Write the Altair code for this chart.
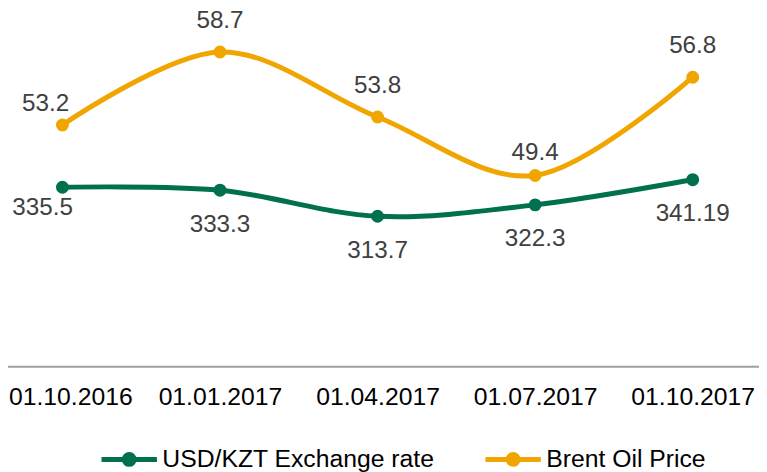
import altair as alt
import pandas as pd

dates = ["01.10.2016", "01.01.2017", "01.04.2017", "01.07.2017", "01.10.2017"]
usd_kzt = [335.5, 333.3, 313.7, 322.3, 341.19]
brent = [53.2, 58.7, 53.8, 49.4, 56.8]
usd_labels = ["335.5", "333.3", "313.7", "322.3", "341.19"]
brent_labels = ["53.2", "58.7", "53.8", "49.4", "56.8"]
series_names = ["USD/KZT Exchange rate", "Brent Oil Price"]

GREEN = "#00704f"
ORANGE = "#f0a500"
FONT = "Liberation Sans"
LABEL_GREY = "#404040"

usd_df = pd.DataFrame({"date": dates, "value": usd_kzt, "label": usd_labels,
                       "series": series_names[0]})
brent_df = pd.DataFrame({"date": dates, "value": brent, "label": brent_labels,
                         "series": series_names[1]})

W, H = 759, 354
TOP = 6

x_axis = alt.Axis(
    title=None, domain=False, ticks=False, grid=False, labelAngle=0,
    labelFont=FONT, labelFontSize=25, labelColor="black",
    labelBaseline="top", labelPadding=18,
    labelOffset={"condition": {"test": f"datum.value === '{dates[0]}'", "value": 8},
                 "value": 0},
)
xenc = alt.X("date:N", sort=dates,
             scale=alt.Scale(type="point", range=[55, 692], padding=0),
             axis=x_axis)

sym_path = ("M-1,0L1,0"
            "M-0.089,0A0.089,0.089,0,1,1,0.089,0A0.089,0.089,0,1,1,-0.089,0"
            "M-0.179,0A0.179,0.179,0,1,1,0.179,0A0.179,0.179,0,1,1,-0.179,0")

color_enc = alt.Color(
    "series:N",
    scale=alt.Scale(domain=series_names, range=[GREEN, ORANGE]),
    legend=alt.Legend(
        orient="none", legendX=92, legendY=417, direction="horizontal",
        title=None, symbolType=sym_path, symbolSize=3136, symbolStrokeWidth=5,
        labelFont=FONT, labelFontSize=25, labelColor="black", labelOffset=3,
        columnPadding=40, padding=0, labelLimit=400,
    ),
)


def series_layer(df, domain, col, dy_default, specials):
    yenc = alt.Y("value:Q", scale=alt.Scale(domain=domain, zero=False, nice=False),
                 axis=None)
    base = alt.Chart(df).encode(x=xenc, y=yenc)
    line = base.mark_line(strokeWidth=5, interpolate="cardinal").encode(color=color_enc)
    pts = base.mark_circle(size=170, opacity=1, color=col)
    special_dates = [d for d, _, _ in specials]
    cond = " && ".join([f"datum.date !== '{d}'" for d in special_dates]) or "true"
    txt_style = dict(font=FONT, fontSize=24.5, color=LABEL_GREY, baseline="middle",
                     align="center")
    texts = [base.mark_text(dy=dy_default, **txt_style).encode(text="label:N")
             .transform_filter(cond)]
    for d, dx, dy in specials:
        texts.append(base.mark_text(dx=dx, dy=dy, **txt_style).encode(text="label:N")
                     .transform_filter(f"datum.date === '{d}'"))
    return alt.layer(line, pts, *texts)


usd_layer = series_layer(usd_df, [200.8, 463.8], GREEN, 35,
                         [(dates[0], -20, 21)])
brent_layer = series_layer(brent_df, [35.0, 61.38], ORANGE, -31,
                           [(dates[0], -17, -21), (dates[3], 0, -23)])

axis_rule = alt.Chart(pd.DataFrame({"a": [0]})).mark_rule(
    color="#a0a0a0", strokeWidth=2
).encode(x=alt.value(0), x2=alt.value(W), y=alt.value(H))

chart = alt.layer(axis_rule, usd_layer, brent_layer).resolve_scale(
    y="independent"
).properties(
    width=W, height=H,
    background="white",
    autosize=alt.AutoSizeParams(type="none"),
    padding={"left": 0, "top": TOP, "right": 0, "bottom": 104},
).configure_view(stroke=None)

chart.save("out.html", embed_options={"renderer": "svg", "actions": False})
